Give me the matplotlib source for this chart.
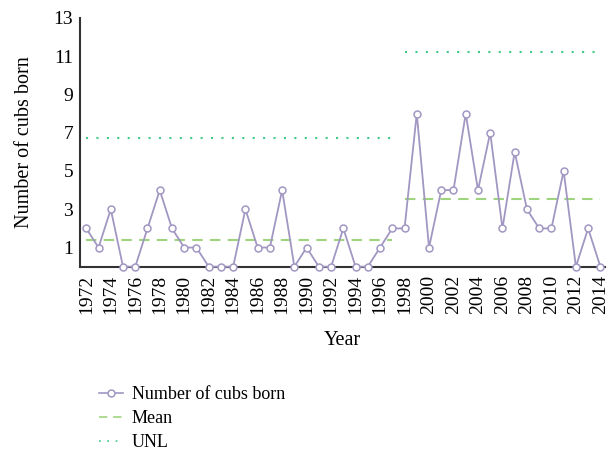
import matplotlib.pyplot as plt

years = list(range(1972, 2015))
cubs = [2, 1, 3, 0, 0, 2, 4, 2, 1, 1, 0, 0, 0, 3, 1, 1, 4, 0, 1, 0, 0, 2, 0, 0, 1, 2,
        2, 8, 1, 4, 4, 8, 4, 7, 2, 6, 3, 2, 2, 5, 0, 2, 0]

# periods for the control limits
period1 = [1972, 1997]
period2 = [1998, 2014]
mean_vals = [1.42, 3.53]
unl_vals = [6.7, 11.2]

plt.rcParams['font.family'] = ['Liberation Serif', 'DejaVu Serif']

fig = plt.figure(figsize=(6.12, 4.59), dpi=100)
ax = fig.add_axes([0.131, 0.419, 0.857, 0.542])

purple = '#a197c2'
mean_col = '#9fd47e'
unl_col = '#40c98a'

ax.plot(years, cubs, color=purple, lw=1.3, marker='o', ms=5,
        mfc='white', mec=purple, mew=1.1, clip_on=False, zorder=3,
        label='Number of cubs born')
for i, (a, b) in enumerate([period1, period2]):
    ax.plot([a, b], [mean_vals[i]] * 2, color=mean_col, lw=1.5,
            linestyle=(0, (5, 3.5)), label='Mean' if i == 0 else None)
    ax.plot([a, b], [unl_vals[i]] * 2, color=unl_col, lw=1.5,
            linestyle=(0, (1, 4)), label='UNL' if i == 0 else None)

ax.set_xlim(1971.5, 2014.35)
ax.set_ylim(0, 13)
ax.set_yticks([1, 3, 5, 7, 9, 11, 13])
ax.set_xticks(list(range(1972, 2015, 2)))
ax.tick_params(axis='x', rotation=90, length=0, labelsize=14, pad=6)
ax.tick_params(axis='y', length=0, labelsize=14, pad=5)

for s in ['top', 'right']:
    ax.spines[s].set_visible(False)
for s in ['left', 'bottom']:
    ax.spines[s].set_color('#333333')
    ax.spines[s].set_linewidth(1.5)

ax.set_xlabel('Year', fontsize=14.5, labelpad=12)
ax.set_ylabel('Number of cubs born', fontsize=14.5, labelpad=14)

handles, labels = ax.get_legend_handles_labels()
leg = fig.legend(handles, labels, loc='upper left', bbox_to_anchor=(0.15, 0.175),
                 frameon=False, fontsize=13, handlelength=1.35, handletextpad=0.45,
                 labelspacing=0.4, borderaxespad=0)
for h in leg.legend_handles:
    h.set_linewidth(1.2)

plt.savefig('out.png', dpi=100)
